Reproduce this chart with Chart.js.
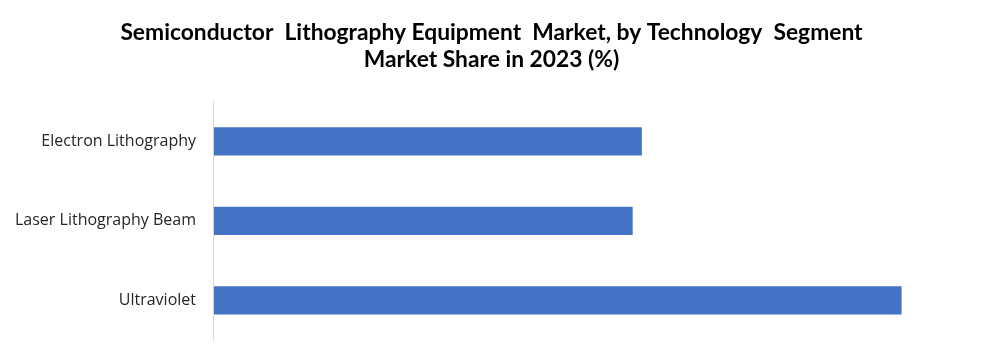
<!doctype html>
<html lang="en">
  <head>
    <title>Semiconductor Lithography Equipment Market</title>
    <script src="https://cdn.jsdelivr.net/npm/chart.js"></script>
    <style>
      html, body { margin: 0; padding: 0; background: #fff; }
      #wrap { width: 1001px; height: 362px; }
    </style>
  </head>
  <body>
    <div id="wrap"><canvas id="shareChart" width="1001" height="362"></canvas></div>
    <script>
      // values (share in %)
      const segments = ['Electron Lithography', 'Laser Lithography Beam', 'Ultraviolet'];
      const shares = [28, 27.4, 45];
      const titleLines = ['Semiconductor  Lithography Equipment  Market, by Technology  Segment', 'Market Share in 2023 (%)'];

      const ctx = document.getElementById('shareChart').getContext('2d');
      const shareChart = new Chart(ctx, {
        type: 'bar',
        data: {
          labels: segments,
          datasets: [{
            data: shares,
            backgroundColor: '#4472C4',
            barPercentage: 0.355,
            categoryPercentage: 1
          }]
        },
        options: {
          indexAxis: 'y',
          responsive: false,
          animation: false,
          layout: { padding: { left: 5, right: 23, top: 19, bottom: 22 } },
          plugins: {
            legend: { display: false },
            tooltip: { enabled: false },
            title: {
              display: true,
              text: titleLines,
              color: '#000',
              font: { family: 'Lato', size: 22.8, weight: 'bold' },
              lineHeight: 1.35,
              padding: { top: 0, bottom: 28 }
            }
          },
          scales: {
            x: { display: false, min: 0, max: 50 },
            y: {
              grid: { display: false },
              border: { display: true, color: '#d9d9d9', width: 1 },
              ticks: {
                color: '#262626',
                padding: 10,
                font: { family: 'Open Sans', size: 16 }
              }
            }
          }
        }
      });
    </script>
  </body>
</html>
